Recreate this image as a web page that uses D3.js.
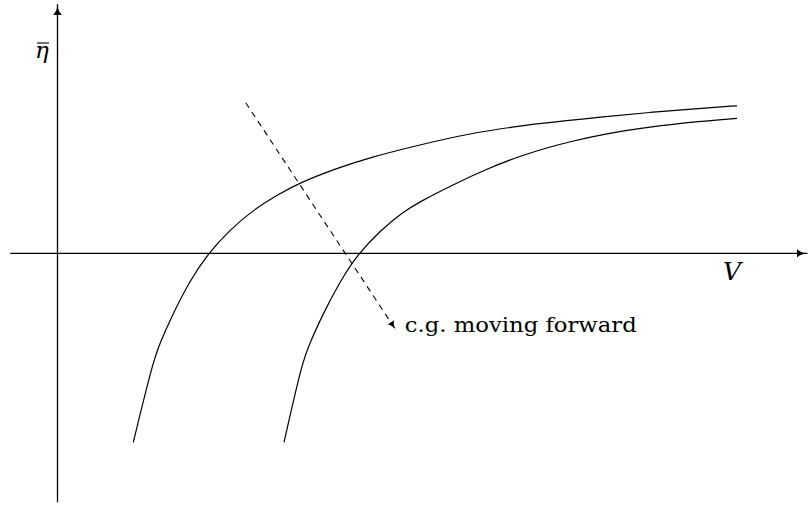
<!DOCTYPE html>
<html>
<head>
<meta charset="utf-8">
<script src="https://cdn.jsdelivr.net/npm/d3@7"></script>
<style>
  html, body { margin: 0; padding: 0; background: #fff; }
  svg { display: block; }
</style>
</head>
<body>
<svg id="chart" width="808" height="506"></svg>
<script>
// Efficiency curves eta-bar against speed V, for two c.g. positions
const aftCgV   = [1.01, 1.28, 1.37, 1.50, 1.77, 2.01, 2.30, 2.61, 2.97, 3.23, 3.72, 4.17, 4.83, 5.50, 6.17, 6.83, 7.23, 7.90, 8.57, 9.06];
const aftCgEta = [-3.78, -2.13, -1.79, -1.33, -0.53, 0.00, 0.47, 0.87, 1.20, 1.41, 1.70, 1.92, 2.17, 2.40, 2.55, 2.66, 2.72, 2.82, 2.90, 2.95];

const fwdCgV   = [3.02, 3.27, 3.37, 3.50, 3.77, 4.01, 4.30, 4.61, 4.83, 5.27, 5.73, 6.17, 6.57, 6.83, 7.23, 7.90, 8.57, 9.06];
const fwdCgEta = [-3.78, -2.13, -1.79, -1.33, -0.55, -0.01, 0.45, 0.83, 1.03, 1.37, 1.69, 1.95, 2.13, 2.23, 2.37, 2.53, 2.64, 2.70];

// Direction of c.g. shift: start and end of the annotation arrow
const shiftV   = [2.51, 4.51];
const shiftEta = [3.01, -1.53];

const axisLabels = { x: "V", y: "\u03B7" };
const shiftLabel = "c.g. moving forward";

const svg = d3.select("#chart");

const x = d3.scaleLinear().domain([-0.63, 10.0]).range([10.25, 807.5]);
const y = d3.scaleLinear().domain([-5.0, 5.0]).range([503.3, 3.3]);

const defs = svg.append("defs");
function arrowMarker(id, len, half) {
  defs.append("marker")
    .attr("id", id)
    .attr("viewBox", `0 ${-half} ${len} ${2 * half}`)
    .attr("refX", len).attr("refY", 0)
    .attr("markerWidth", len).attr("markerHeight", 2 * half)
    .attr("markerUnits", "userSpaceOnUse")
    .attr("orient", "auto")
    .append("path")
    .attr("d", `M0,${-half} Q${len * 0.45},0 ${len},0 Q${len * 0.45},0 0,${half} Z`)
    .attr("fill", "#000");
}
arrowMarker("axisHead", 11, 4.6);
arrowMarker("noteHead", 9, 3.8);

// Axes
svg.append("line")
  .attr("x1", x(-0.63)).attr("y1", y(0))
  .attr("x2", x(10.0)).attr("y2", y(0))
  .attr("stroke", "#000").attr("stroke-width", 1.3)
  .attr("marker-end", "url(#axisHead)");
svg.append("line")
  .attr("x1", x(0)).attr("y1", y(-4.98))
  .attr("x2", x(0)).attr("y2", y(4.98))
  .attr("stroke", "#000").attr("stroke-width", 1.3)
  .attr("marker-end", "url(#axisHead)");

// Curves
const line = d3.line()
  .x(d => x(d[0])).y(d => y(d[1]))
  .curve(d3.curveBasis);

[[aftCgV, aftCgEta], [fwdCgV, fwdCgEta]].forEach(([vs, es]) => {
  svg.append("path")
    .datum(d3.zip(vs, es))
    .attr("d", line)
    .attr("fill", "none")
    .attr("stroke", "#000")
    .attr("stroke-width", 1.2);
});

// Dashed shift arrow
svg.append("line")
  .attr("x1", x(shiftV[0])).attr("y1", y(shiftEta[0]))
  .attr("x2", x(shiftV[1])).attr("y2", y(shiftEta[1]))
  .attr("stroke", "#000").attr("stroke-width", 1.1)
  .attr("stroke-dasharray", "6,5")
  .attr("marker-end", "url(#noteHead)");

const serif = "DejaVu Serif";

svg.append("text")
  .attr("x", x(shiftV[1]) + 9).attr("y", y(shiftEta[1]) + 2)
  .attr("font-family", serif)
  .attr("font-size", 21)
  .attr("textLength", 232).attr("lengthAdjust", "spacingAndGlyphs")
  .text(shiftLabel);

// Axis labels
svg.append("text")
  .attr("x", 723).attr("y", 280)
  .attr("font-family", serif)
  .attr("font-size", 25).attr("font-style", "italic")
  .text(axisLabels.x);

svg.append("text")
  .attr("x", 35).attr("y", 58)
  .attr("font-family", serif)
  .attr("font-size", 23).attr("font-style", "italic")
  .text(axisLabels.y);
// bar over eta
svg.append("line")
  .attr("x1", 37).attr("x2", 49).attr("y1", 43).attr("y2", 43)
  .attr("stroke", "#000").attr("stroke-width", 1.1);
</script>
</body>
</html>
